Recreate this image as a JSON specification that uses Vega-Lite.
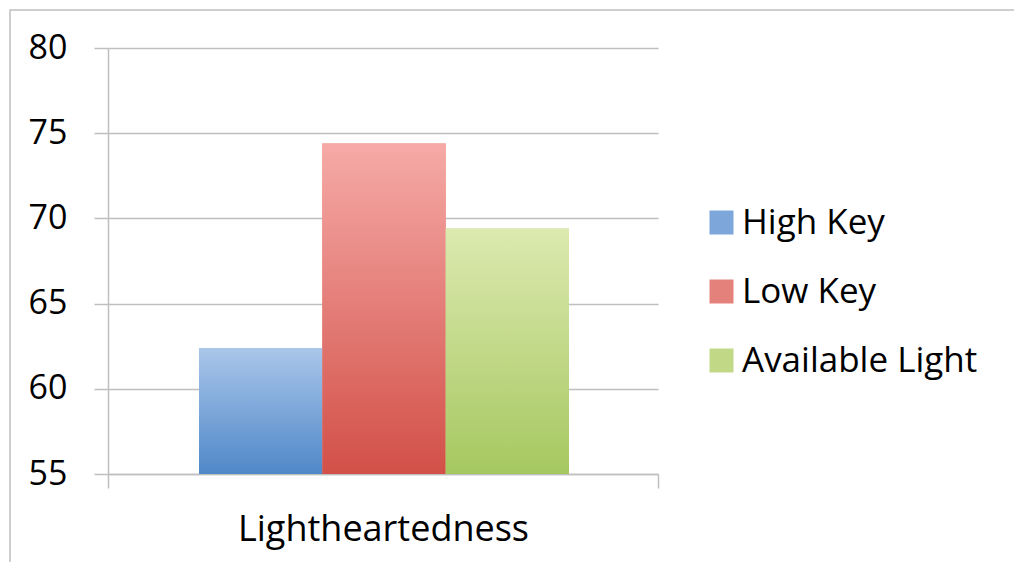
{
  "$schema": "https://vega.github.io/schema/vega-lite/v6.json",
  "width": 1010,
  "height": 560,
  "autosize": "none",
  "padding": {"left": 10, "top": 10, "right": 0, "bottom": 0},
  "background": "white",
  "config": {
    "view": {"stroke": "#BFBFBF", "strokeWidth": 1.5},
    "font": "Open Sans"
  },
  "data": {
    "values": [
      {"category": "Lightheartedness", "series": "High Key", "value": 62.4},
      {"category": "Lightheartedness", "series": "Low Key", "value": 74.4},
      {"category": "Lightheartedness", "series": "Available Light", "value": 69.4}
    ]
  },
  "encoding": {
    "x": {
      "field": "category",
      "type": "nominal",
      "scale": {"range": [98, 648], "paddingInner": 0, "paddingOuter": 0},
      "axis": {
        "title": null,
        "offset": -96,
        "tickBand": "extent",
        "tickSize": 14,
        "tickColor": "#BFBFBF",
        "tickWidth": 1.5,
        "domainColor": "#BFBFBF",
        "domainWidth": 1.5,
        "labelAngle": 0,
        "labelFont": "Open Sans",
        "labelFontSize": 36,
        "labelColor": "#000000",
        "labelPadding": 24,
        "labelLimit": 0,
        "grid": false
      }
    },
    "xOffset": {
      "field": "series",
      "type": "nominal",
      "sort": ["High Key", "Low Key", "Available Light"],
      "scale": {"range": [91, 461], "paddingInner": 0, "paddingOuter": 0}
    },
    "y": {
      "field": "value",
      "type": "quantitative",
      "scale": {"domain": [55, 80], "range": [464, 38], "nice": false, "zero": false},
      "axis": {
        "title": null,
        "offset": -98,
        "values": [55, 60, 65, 70, 75, 80],
        "tickSize": 14,
        "tickColor": "#BFBFBF",
        "tickWidth": 1.5,
        "domainColor": "#BFBFBF",
        "domainWidth": 1.5,
        "grid": true,
        "gridColor": "#BFBFBF",
        "gridWidth": 1.5,
        "labelFont": "Open Sans",
        "labelFontSize": 34,
        "labelColor": "#000000",
        "labelPadding": 27
      }
    },
    "y2": {"datum": 55}
  },
  "layer": [
    {
      "mark": {"type": "bar"},
      "encoding": {
        "color": {
          "field": "series",
          "type": "nominal",
          "scale": {
            "domain": ["High Key", "Low Key", "Available Light"],
            "range": ["#7DA7DA", "#E4817B", "#C1D987"]
          },
          "legend": {
            "title": null,
            "orient": "none",
            "legendX": 694,
            "legendY": 195,
            "padding": 0,
            "symbolType": "square",
            "symbolSize": 576,
            "symbolStrokeWidth": 0,
            "symbolOpacity": 1,
            "labelFont": "Open Sans",
            "labelFontSize": 35,
            "labelColor": "#000000",
            "labelOffset": 3,
            "labelLimit": 0,
            "rowPadding": 33
          }
        }
      }
    },
    {
      "mark": {"type": "bar"},
      "encoding": {
        "fill": {
          "condition": [
            {
              "test": "datum.series === 'High Key'",
              "value": {"gradient": "linear", "x1": 0, "y1": 0, "x2": 0, "y2": 1,
                "stops": [{"offset": 0, "color": "#AAC6EA"}, {"offset": 1, "color": "#4F88C8"}]}
            },
            {
              "test": "datum.series === 'Low Key'",
              "value": {"gradient": "linear", "x1": 0, "y1": 0, "x2": 0, "y2": 1,
                "stops": [{"offset": 0, "color": "#F6AAA7"}, {"offset": 1, "color": "#D25048"}]}
            }
          ],
          "value": {"gradient": "linear", "x1": 0, "y1": 0, "x2": 0, "y2": 1,
            "stops": [{"offset": 0, "color": "#DCE9B0"}, {"offset": 1, "color": "#A6C860"}]}
        }
      }
    }
  ]
}
